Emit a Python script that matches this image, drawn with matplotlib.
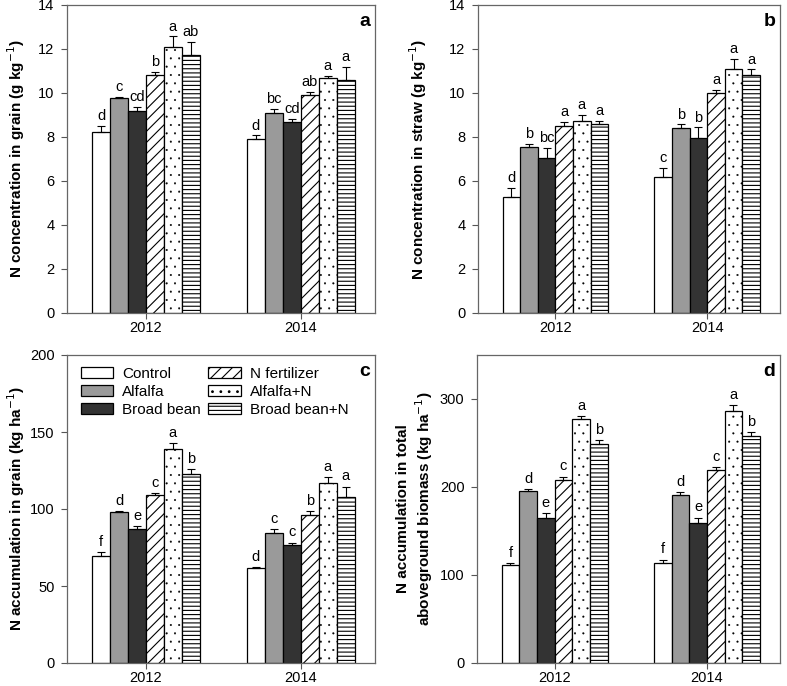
import numpy as np
import matplotlib
matplotlib.use("Agg")
import matplotlib.pyplot as plt

plt.rcParams["font.family"] = ["Liberation Sans", "DejaVu Sans"]
plt.rcParams["hatch.linewidth"] = 0.8

years = ["2012", "2014"]
treatments = ["Control", "Alfalfa", "Broad bean",
              "N fertilizer", "Alfalfa+N", "Broad bean+N"]

# values per treatment: [2012, 2014]
grain_n = [[8.25, 7.9], [9.78, 9.1], [9.2, 8.68], [10.8, 9.9], [12.1, 10.7], [11.75, 10.6]]
grain_n_err = [[0.25, 0.17], [0.05, 0.18], [0.17, 0.14], [0.17, 0.14], [0.48, 0.08], [0.58, 0.6]]
grain_n_let = [["d", "d"], ["c", "bc"], ["cd", "cd"], ["b", "ab"], ["a", "a"], ["ab", "a"]]

straw_n = [[5.27, 6.2], [7.56, 8.42], [7.04, 7.94], [8.48, 10.02], [8.74, 11.08], [8.6, 10.82]]
straw_n_err = [[0.41, 0.4], [0.12, 0.15], [0.47, 0.5], [0.2, 0.12], [0.26, 0.47], [0.14, 0.26]]
straw_n_let = [["d", "c"], ["b", "b"], ["bc", "b"], ["a", "a"], ["a", "a"], ["a", "a"]]

grain_acc = [[69.6, 61.8], [98.2, 84.5], [87.1, 76.7], [109.4, 96.4], [138.9, 117.2], [122.9, 108.1]]
grain_acc_err = [[2.2, 0.6], [0.5, 2.6], [1.7, 1.5], [0.9, 2.4], [3.7, 3.5], [2.8, 6.5]]
grain_acc_let = [["f", "d"], ["d", "c"], ["e", "c"], ["c", "b"], ["a", "a"], ["b", "a"]]

total_acc = [[111.5, 113.8], [195.7, 190.4], [165.0, 159.3], [207.4, 219.2], [276.8, 285.9], [248.4, 257.9]]
total_acc_err = [[1.9, 3.8], [1.9, 3.4], [5.7, 6.0], [4.5, 3.4], [4.2, 7.2], [5.3, 4.9]]
total_acc_let = [["f", "f"], ["d", "d"], ["e", "e"], ["c", "c"], ["a", "a"], ["b", "b"]]

colors = ["white", "#9a9a9a", "#333333", "white", "white", "white"]
hatches = [None, None, None, "///", "..", "----"]
hatch_lw = [0.8, 0.8, 0.8, 0.8, 0.25, 0.8]
width = 0.116
x = np.arange(len(years))


def draw_panel(ax, vals, errs, lets, ylim, yticks, ylabel, tag, lab_off):
    for i, name in enumerate(treatments):
        pos = x + (i - 2.5) * width
        v = np.array(vals[i])
        e = np.array(errs[i])
        with plt.rc_context({"hatch.linewidth": hatch_lw[i]}):
            ax.bar(pos, v, width, color=colors[i], edgecolor="black",
                   linewidth=0.9, hatch=hatches[i], label=name, zorder=2)
        ax.errorbar(pos, v, yerr=[np.zeros_like(e), e], fmt="none",
                    ecolor="black", elinewidth=0.8, capsize=3.2,
                    capthick=0.8, zorder=3)
        for px, top, t in zip(pos, v + e, lets[i]):
            ax.text(px, top + lab_off, t, ha="center", va="bottom",
                    fontsize=10.5)
    ax.set_xlim(-0.51, 1.48)
    ax.set_ylim(*ylim)
    ax.set_yticks(yticks)
    ax.set_xticks(x)
    ax.set_xticklabels(years)
    ax.tick_params(direction="out", length=4, width=0.8, colors="#555555",
                   labelcolor="black", labelsize=10.5, pad=5)
    ax.tick_params(axis="x", pad=1.5)
    for s in ax.spines.values():
        s.set_color("#666666")
        s.set_linewidth(0.9)
    ax.set_ylabel(ylabel, fontsize=11, fontweight="bold")
    ax.text(0.985, 0.975, tag, transform=ax.transAxes, ha="right", va="top",
            fontsize=14, fontweight="bold")


fig = plt.figure(figsize=(7.87, 6.86), dpi=100)
W, H = 787, 686


def px_axes(l, t, r, b):
    return fig.add_axes([l / W, (H - b) / H, (r - l) / W, (b - t) / H])


ax_a = px_axes(67, 5, 375, 313)
ax_b = px_axes(478, 5, 780, 313)
ax_c = px_axes(67, 355, 375, 663)
ax_d = px_axes(477, 355, 780, 663)

draw_panel(ax_a, grain_n, grain_n_err, grain_n_let, (0, 14), np.arange(0, 15, 2),
           "N concentration in grain (g kg$^{-1}$)", "a", 0.12)
draw_panel(ax_b, straw_n, straw_n_err, straw_n_let, (0, 14), np.arange(0, 15, 2),
           "N concentration in straw (g kg$^{-1}$)", "b", 0.12)
draw_panel(ax_c, grain_acc, grain_acc_err, grain_acc_let, (0, 200), np.arange(0, 201, 50),
           "N accumulation in grain (kg ha$^{-1}$)", "c", 2)
draw_panel(ax_d, total_acc, total_acc_err, total_acc_let, (0, 350), np.arange(0, 301, 100),
           "N accumulation in total\naboveground biomass (kg ha$^{-1}$)", "d", 3.5)

for ax in (ax_a, ax_c):
    ax.yaxis.set_label_coords(-0.13, 0.5)
ax_b.yaxis.set_label_coords(-0.162, 0.5)
ax_d.yaxis.set_label_coords(-0.139, 0.5)

with plt.rc_context({"hatch.linewidth": 0.8}):
    ax_c.legend(loc="upper left", ncol=2, frameon=False, fontsize=11,
                handlelength=2.1, handleheight=0.8, labelspacing=0.25,
                columnspacing=0.5, handletextpad=0.6, borderpad=0,
                borderaxespad=0, bbox_to_anchor=(0.045, 0.962))

fig.savefig("out.png", dpi=100)
